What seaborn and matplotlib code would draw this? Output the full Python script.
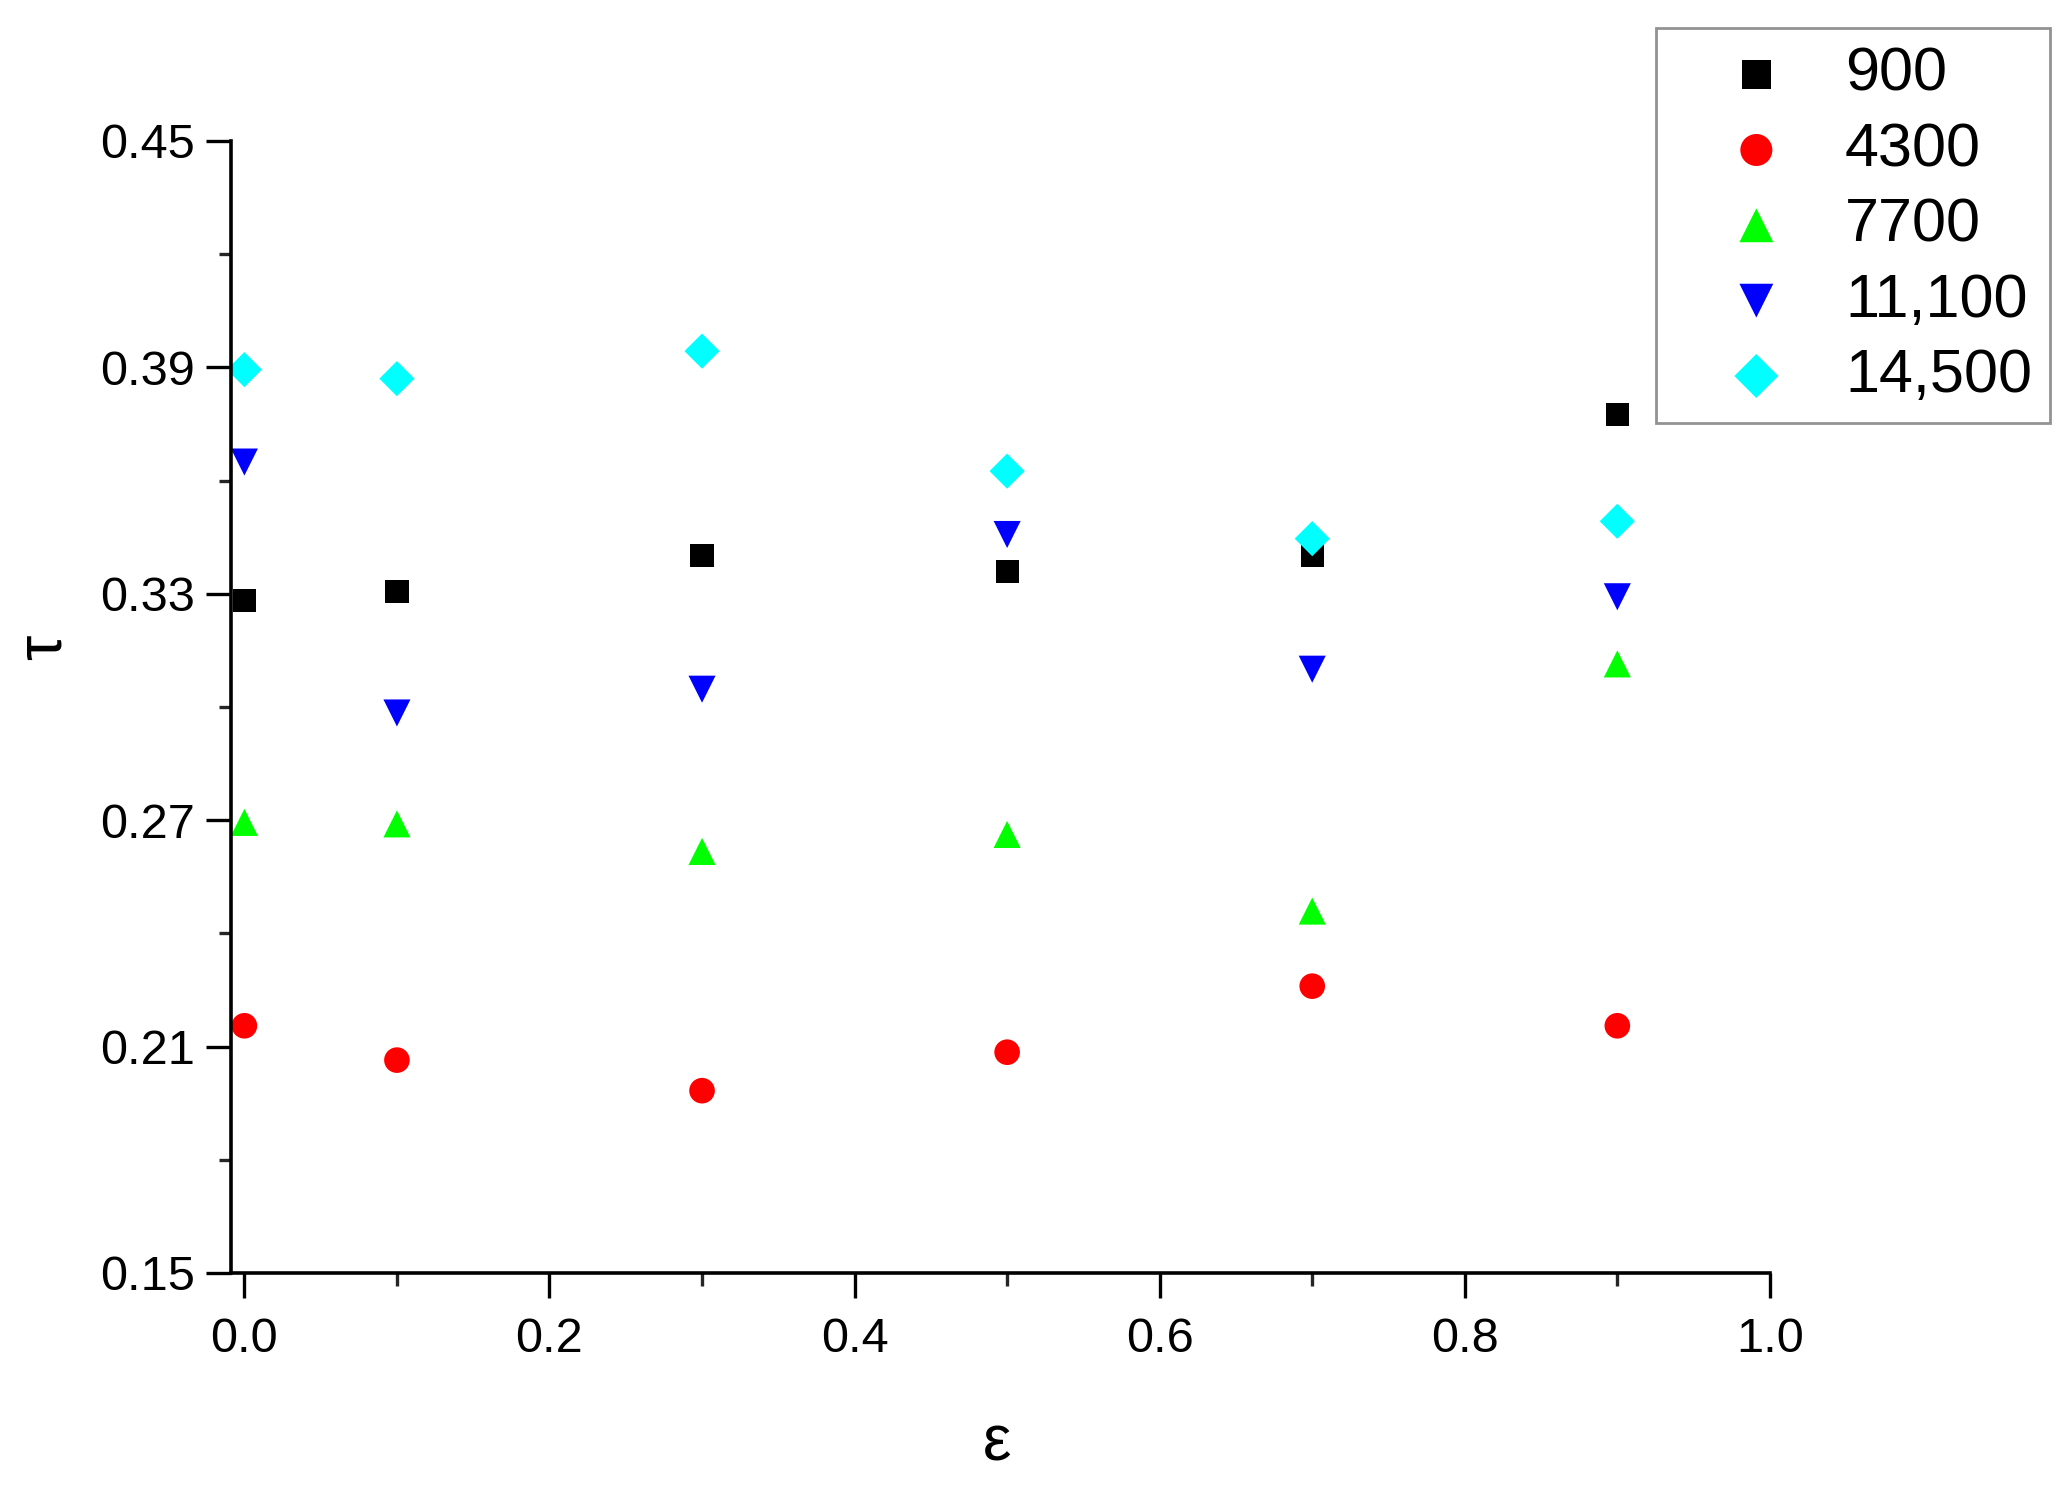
import matplotlib
matplotlib.use("Agg")
import matplotlib.pyplot as plt
import seaborn as sns
import pandas as pd
import numpy as np
from matplotlib.ticker import MultipleLocator, FormatStrFormatter

# data
eps = [0.0, 0.1, 0.3, 0.5, 0.7, 0.9]
series = ['900', '4300', '7700', '11,100', '14,500']
tau_900 = [0.3282, 0.3306, 0.3401, 0.3359, 0.3401, 0.3775]
tau_4300 = [0.2155, 0.2064, 0.1983, 0.2085, 0.2260, 0.2155]
tau_7700 = [0.2694, 0.2690, 0.2617, 0.2662, 0.2459, 0.3114]
tau_11100 = [0.3649, 0.2984, 0.3047, 0.3457, 0.3100, 0.3292]
tau_14500 = [0.3894, 0.3870, 0.3943, 0.3625, 0.3446, 0.3492]

colors = ['#000000', '#ff0000', '#00ff00', '#0000ff', '#00ffff']
marker_list = ['s', 'o', '^', 'v', 'D']

all_tau = [tau_900, tau_4300, tau_7700, tau_11100, tau_14500]
df = pd.DataFrame({
    'eps': eps * len(series),
    'tau': [v for s in all_tau for v in s],
    'N': [name for name in series for _ in eps],
})

sns.set_style('ticks')
plt.rcParams['font.family'] = ['Liberation Sans', 'DejaVu Sans']

fig, ax = plt.subplots(figsize=(10.355, 7.465), dpi=200)
fig.subplots_adjust(left=0.1116, right=0.8546, top=0.9056, bottom=0.1474)

sizes = {'900': 70, '4300': 85, '7700': 95, '11,100': 95, '14,500': 80}
for name, col, mk in zip(series, colors, marker_list):
    sub = df[df['N'] == name]
    sns.scatterplot(data=sub, x='eps', y='tau', color=col, marker=mk,
                    s=sizes[name], edgecolor='none', linewidth=0, ax=ax, label=name)

ax.set_xlim(-0.0087, 1.0)
ax.set_ylim(0.15, 0.45)
ax.xaxis.set_major_locator(MultipleLocator(0.2))
ax.xaxis.set_minor_locator(MultipleLocator(0.1))
ax.yaxis.set_major_locator(MultipleLocator(0.06))
ax.yaxis.set_minor_locator(MultipleLocator(0.03))
ax.xaxis.set_major_formatter(FormatStrFormatter('%.1f'))
ax.yaxis.set_major_formatter(FormatStrFormatter('%.2f'))
ax.set_yticks(np.arange(0.15, 0.4501, 0.06))

for s in ['top', 'right']:
    ax.spines[s].set_visible(False)
for s in ['left', 'bottom']:
    ax.spines[s].set_linewidth(1.3)
    ax.spines[s].set_color('black')
ax.tick_params(which='major', length=9, width=1.2, labelsize=17.5, colors='black')
ax.tick_params(which='minor', length=4.5, width=1.2)
ax.tick_params(axis='y', which='major', pad=4)
ax.tick_params(axis='x', which='major', pad=7)

ax.set_xlabel('ε', fontsize=23, color='black', va='center')
ax.set_ylabel('τ', fontsize=23, color='black', va='center')
ax.xaxis.set_label_coords(0.498, -0.1505)
ax.yaxis.set_label_coords(-0.1219, 0.553)

handles, labels = ax.get_legend_handles_labels()
leg = ax.legend(handles, labels, loc='upper right', bbox_to_anchor=(0.99, 0.981),
                bbox_transform=fig.transFigure, fontsize=22, markerscale=1.25,
                frameon=True, fancybox=False, edgecolor='#777777', labelcolor='black',
                labelspacing=0.3, handletextpad=0.1, borderpad=0.3,
                borderaxespad=0, handlelength=2.7)
leg.get_frame().set_linewidth(1.0)

fig.savefig('out.png', dpi=200)
